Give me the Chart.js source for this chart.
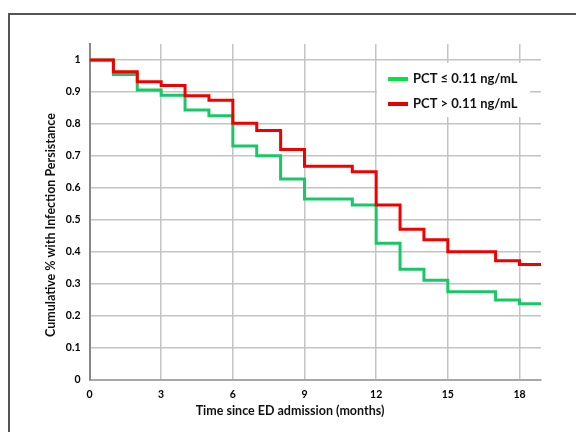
<!DOCTYPE html>
<html>
<head>
<meta charset="utf-8">
<script src="https://cdn.jsdelivr.net/npm/chart.js@4/dist/chart.umd.min.js"></script>
<style>
  html, body { margin: 0; padding: 0; background: #fff; }
  #wrap { position: relative; width: 576px; height: 432px; }
  #frame { position: absolute; left: 8px; top: 13px; right: 0; bottom: 0;
           border-left: 2px solid #555; border-top: 2px solid #555; pointer-events: none; }
</style>
</head>
<body>
<div id="wrap">
  <canvas id="km" width="576" height="432"></canvas>
  <div id="frame"></div>
</div>
<script>
// dados
const months   = [0, 1, 2, 3, 4, 5, 6, 7, 8, 9, 11, 12, 13, 14, 15, 17, 18, 18.9];
const pctLow   = [1, 0.955, 0.906, 0.89, 0.844, 0.826, 0.731, 0.701, 0.628, 0.566, 0.547, 0.427, 0.346, 0.312, 0.276, 0.25, 0.238, 0.238];
const pctHigh  = [1, 0.963, 0.932, 0.92, 0.888, 0.874, 0.802, 0.78, 0.72, 0.668, 0.651, 0.547, 0.471, 0.438, 0.401, 0.373, 0.361, 0.361];
const labels   = ['PCT \u2264 0.11 ng/mL', 'PCT > 0.11 ng/mL'];
const xTicks   = [0, 3, 6, 9, 12, 15, 18];
const yTitle   = 'Cumulative % with Infection Persistance';
const xTitle   = 'Time since ED admission (months)';

const lineColors   = ['#18c866', '#f20000'];
const legendColors = ['#00e640', '#e60000'];

const toPoints = values => months.map((m, i) => ({ x: m, y: values[i] }));

// legenda e títulos desenhados no canvas
const overlay = {
  id: 'overlay',
  afterDraw(chart) {
    const ctx = chart.ctx;
    ctx.save();
    ctx.fillStyle = '#fff';
    ctx.fillRect(377, 63, 153, 54);
    ctx.font = 'bold 13px Lato';
    ctx.textBaseline = 'middle';
    [79, 104].forEach((y, i) => {
      ctx.fillStyle = legendColors[i];
      ctx.fillRect(388, y - 2, 20, 4);
      ctx.fillStyle = '#111';
      ctx.fillText(labels[i], 413, y);
    });

    ctx.font = 'bold 12.5px Lato';
    ctx.textAlign = 'center';
    ctx.fillStyle = '#111';
    ctx.fillText(xTitle, 290, 411);

    ctx.translate(51, 225);
    ctx.rotate(-Math.PI / 2);
    ctx.fillText(yTitle, 0, 0);
    ctx.restore();
  }
};

// vermelho primeiro para ficar por cima do verde
new Chart(document.getElementById('km'), {
  type: 'line',
  data: {
    datasets: [
      { label: labels[1], data: toPoints(pctHigh), borderColor: lineColors[1], borderWidth: 3, stepped: 'before', pointRadius: 0, fill: false },
      { label: labels[0], data: toPoints(pctLow),  borderColor: lineColors[0], borderWidth: 3, stepped: 'before', pointRadius: 0, fill: false }
    ]
  },
  options: {
    responsive: false,
    animation: false,
    layout: { padding: { left: 10, right: 35, top: 44, bottom: 0 } },
    plugins: { legend: { display: false }, tooltip: { enabled: false } },
    scales: {
      x: {
        type: 'linear', min: 0, max: 18.9,
        afterFit: s => { s.height = 52; },
        afterBuildTicks: s => { s.ticks = xTicks.map(v => ({ value: v })); },
        ticks: { padding: 8, color: '#000', font: { family: 'Lato', weight: 'bold', size: 10.5 }, maxRotation: 0 },
        grid: { color: '#c4c4c4', lineWidth: 1.5, drawTicks: false },
        border: { color: '#a8a8a8', width: 2 }
      },
      y: {
        min: 0, max: 1.05,
        afterFit: s => { s.width = 79.5; },
        ticks: { stepSize: 0.1, includeBounds: false, padding: 9, color: '#000',
                 font: { family: 'Lato', weight: 'bold', size: 10.5 },
                 callback: v => v > 1.001 ? '' : Math.round(v * 10) / 10 },
        grid: { color: '#c4c4c4', lineWidth: 1.5, drawTicks: false },
        border: { color: '#888', width: 2 }
      }
    }
  },
  plugins: [overlay]
});
</script>
</body>
</html>
